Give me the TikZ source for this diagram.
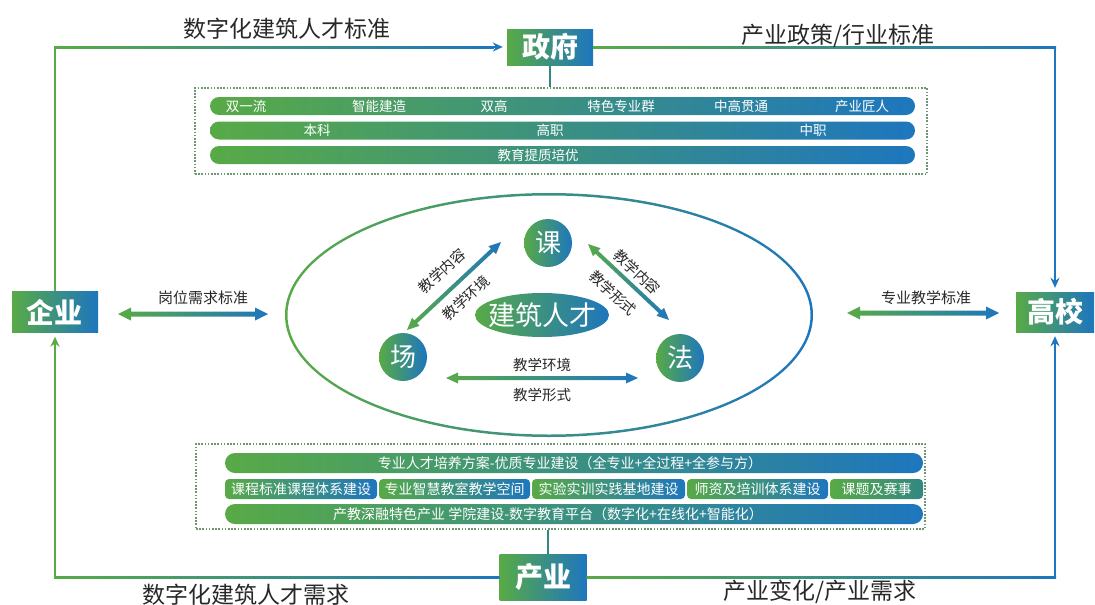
\documentclass[tikz,border=0pt]{standalone}
\usepackage{fontspec}
\setmainfont{Noto Sans CJK SC}
\usetikzlibrary{calc,arrows.meta}
\definecolor{cgreen}{RGB}{88,170,70}
\definecolor{cblue}{RGB}{30,118,190}
\definecolor{cteal}{RGB}{50,135,130}
\definecolor{ctext}{RGB}{40,40,40}
\definecolor{cdot}{RGB}{110,150,115}
% double arrow with green-to-blue shading: start, end, shaft half width, head half width, head length
\newcommand\dblarrow[5]{%
  \shade[left color=cgreen, right color=cblue] let \p1=($(#2)-(#1)$), \n1={atan2(\y1,\x1)}, \n2={veclen(\x1,\y1)} in
  [shift={(#1)}, rotate=\n1] (0pt,0pt) -- (#5pt,#4pt) -- (#5pt,#3pt) -- ({\n2-#5pt},#3pt) -- ({\n2-#5pt},#4pt)
  -- (\n2,0pt) -- ({\n2-#5pt},-#4pt) -- ({\n2-#5pt},-#3pt) -- (#5pt,-#3pt) -- (#5pt,-#4pt) -- cycle;}
\tikzset{
  keybox/.style={rectangle, left color=cgreen, right color=cblue, text=white, inner sep=0pt,
    font=\fontsize{28}{28}\selectfont\bfseries},
  title/.style={text=ctext, inner sep=0pt, font=\fontsize{23}{23}\selectfont},
  dotbox/.style={draw=cdot, line width=1.6pt, dash pattern=on 1.6pt off 1.6pt, inner sep=0pt},
  bar/.style={rounded corners=9pt, left color=cgreen, right color=cblue, inner sep=0pt, minimum height=18pt},
  bartext/.style={text=white, inner sep=0pt, font=\fontsize{13.5}{13.5}\selectfont},
  cell/.style={rounded corners=4pt, left color=cgreen, right color=cblue, inner sep=0pt, minimum height=20pt,
    text=white, font=\fontsize{14}{14}\selectfont},
  ball/.style={circle, minimum size=48pt, inner sep=0pt, left color=cgreen, right color=cblue, text=white,
    font=\fontsize{26}{26}\selectfont},
  lbl/.style={text=ctext, inner sep=0pt, font=\fontsize{14.5}{14.5}\selectfont},
  conn/.style={line width=2pt},
  tip/.style={-{Stealth[length=10pt,width=9pt]}}
}
\begin{document}
\begin{tikzpicture}[x=1pt,y=-1pt]
\useasboundingbox (0,0) rectangle (1095,605);

% main boxes
\node[keybox, minimum width=86pt, minimum height=36pt] (zhengfu) at (550,47) {政府};
\node[keybox, minimum width=86pt, minimum height=41pt] (qiye) at (55,312) {企业};
\node[keybox, minimum width=78pt, minimum height=40pt] (gaoxiao) at (1055,312) {高校};
\node[keybox, minimum width=87pt, minimum height=46pt] (chanye) at (543,577) {产业};

% outer connectors
\coordinate (ctl) at (qiye.north |- zhengfu.west);
\coordinate (ctr) at (gaoxiao.north |- zhengfu.east);
\coordinate (cbl) at (qiye.south |- chanye.west);
\coordinate (cbr) at (gaoxiao.south |- chanye.east);
\draw[conn, cgreen] (qiye.north) -- (ctl);
\shade[left color=cgreen, right color=cblue] ($(ctl)+(-1,-1)$) rectangle ($(zhengfu.west)+(-13,1)$);
\draw[conn, cblue, tip] ($(zhengfu.west)+(-14,0)$) -- ($(zhengfu.west)+(-4,0)$);
\shade[left color=cgreen, right color=cblue] ($(zhengfu.east)+(0,-1)$) rectangle ($(ctr)+(1,1)$);
\draw[conn, cblue, tip] (ctr) -- ($(gaoxiao.north)+(0,-4)$);
\shade[left color=cgreen, right color=cblue] ($(chanye.east)+(0,-1)$) rectangle ($(cbr)+(1,1)$);
\draw[conn, cblue, tip] (cbr) -- ($(gaoxiao.south)+(0,4)$);
\shade[left color=cgreen, right color=cblue] ($(cbl)+(-1,-1)$) rectangle ($(chanye.west)+(0,1)$);
\draw[conn, cgreen, tip] (cbl) -- ($(qiye.south)+(0,4)$);

% titles
\node[title] (t1) at (287,29) {数字化建筑人才标准};
\node[title] (t2) at (838,36) {产业政策/行业标准};
\node[title] (t3) at (246,595) {数字化建筑人才需求};
\node[title] (t4) at (820,592) {产业变化/产业需求};

% top dotted box
\node[dotbox, minimum width=732pt, minimum height=86pt] (topbox) at (561,131) {};
\draw[cteal, line width=1.5pt] (zhengfu.south) -- (zhengfu.south |- topbox.north);
\node[bar, minimum width=705pt] (tb1) at (562.5,106) {};
\node[bar, minimum width=705pt] (tb2) at (562.5,130.5) {};
\node[bar, minimum width=705pt] (tb3) at (562.5,155) {};
\node[bartext] (x1) at (246,106) {双一流};
\node[bartext] (x2) at (379,106) {智能建造};
\node[bartext] (x3) at (494,106) {双高};
\node[bartext] (x4) at (621,106) {特色专业群};
\node[bartext] (x5) at (741,106) {中高贯通};
\node[bartext] (x6) at (862,106) {产业匠人};
\node[bartext] (y1) at (317,130.5) {本科};
\node[bartext] (y2) at (550,130.5) {高职};
\node[bartext] (y3) at (813,130.5) {中职};
\node[bartext] (z1) at (538,155) {教育提质培优};

% bottom dotted box
\node[dotbox, minimum width=729pt, minimum height=85pt] (botbox) at (560.5,486.5) {};
\coordinate (cyn) at ($(chanye.north)+(5,0)$);
\draw[cteal, line width=1.5pt] (cyn) -- (cyn |- botbox.south);
\node[bar, rounded corners=10pt, minimum width=698pt, minimum height=20pt] (bb1) at (574,463) {};
\node[bar, rounded corners=10pt, minimum width=698pt, minimum height=20pt] (bb3) at (574,514) {};
\node[bartext, font=\fontsize{14}{14}\selectfont] (w1) at (570,463) {专业人才培养方案-优质专业建设（全专业+全过程+全参与方）};
\node[bartext, font=\fontsize{14}{14}\selectfont] (w3) at (548,514) {产教深融特色产业 学院建设-数字教育平台（数字化+在线化+智能化）};
\node[cell, minimum width=152pt] (ca) at (301,489) {课程标准课程体系建设};
\node[cell, minimum width=151pt] (cb) at (454.5,489) {专业智慧教室教学空间};
\node[cell, minimum width=153pt] (cc) at (608.5,489) {实验实训实践基地建设};
\node[cell, minimum width=141pt] (cd) at (757.5,489) {师资及培训体系建设};
\node[cell, minimum width=93pt, right color=cteal] (ce) at (876.5,489) {课题及赛事};

% central ellipse
\coordinate (ell) at (549,315);
\shade[left color=cgreen, right color=cblue, even odd rule] (ell) ellipse [x radius=264pt, y radius=122pt]
  (ell) ellipse [x radius=261.5pt, y radius=119.5pt];

\node[ball] (ke) at (548,243) {课};
\node[ball] (chang) at (403,357) {场};
\node[ball] (fa) at (680,358) {法};
\shade[left color=cgreen, right color=cblue] (542,315) ellipse [x radius=67pt, y radius=22pt];
\node[text=white, inner sep=0pt, font=\fontsize{27}{27}\selectfont] (core) at (542,315) {建筑人才};

% inner arrows
\coordinate (a1) at (407,330); \coordinate (a2) at (501,242);
\coordinate (a3) at (588,244); \coordinate (a4) at (669,320);
\coordinate (a5) at (446,378); \coordinate (a6) at (638,378);
\dblarrow{a1}{a2}{2}{5.5}{12}
\dblarrow{a3}{a4}{2}{5.5}{12}
\dblarrow{a5}{a6}{2}{5.5}{12}
\node[lbl, rotate=43] (l1) at (442,271) {教学内容};
\node[lbl, rotate=43] (l2) at (466,298) {教学环境};
\node[lbl, rotate=-43] (l3) at (637,272) {教学内容};
\node[lbl, rotate=-43] (l4) at (613,293) {教学形式};
\node[lbl] (l5) at (542,365) {教学环境};
\node[lbl] (l6) at (542,395) {教学形式};

% side arrows
\coordinate (s1) at (118,314); \coordinate (s2) at (268,314);
\coordinate (s3) at (847,313); \coordinate (s4) at (999,313);
\dblarrow{s1}{s2}{2.5}{6.5}{13}
\dblarrow{s3}{s4}{2.5}{6.5}{13}
\node[lbl, font=\fontsize{15}{15}\selectfont] (k1) at (203,298) {岗位需求标准};
\node[lbl, font=\fontsize{15}{15}\selectfont] (k2) at (926,298) {专业教学标准};
\end{tikzpicture}
\end{document}
